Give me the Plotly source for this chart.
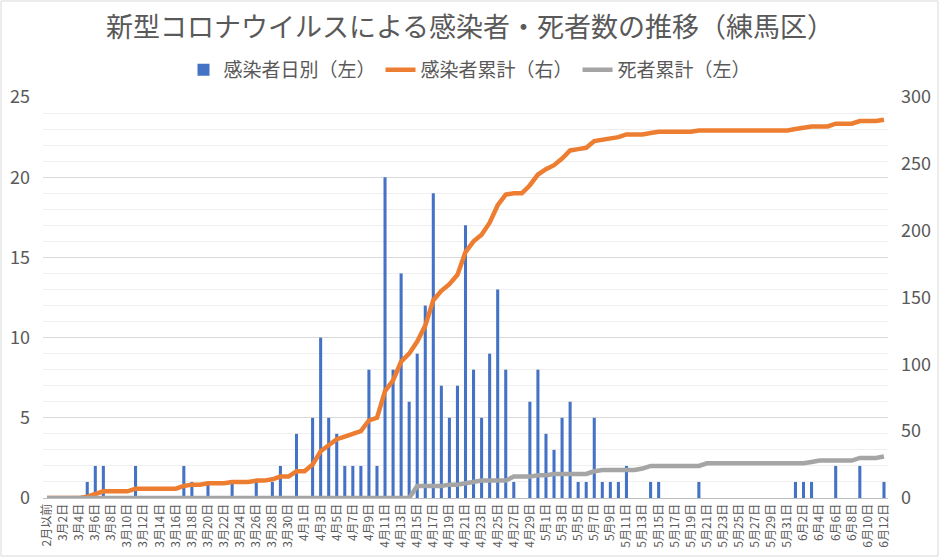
import plotly.graph_objects as go

categories = (["2月以前"] + [f"3月{d}日" for d in range(1, 32)]
              + [f"4月{d}日" for d in range(1, 31)]
              + [f"5月{d}日" for d in range(1, 32)]
              + [f"6月{d}日" for d in range(1, 13)])

daily_cases = [0,
    0, 0, 0, 0, 1, 2, 2, 0, 0, 0, 2, 0, 0, 0, 0, 0, 2, 1, 0, 1,
    0, 0, 1, 0, 0, 1, 0, 1, 2, 0, 4,
    0, 5, 10, 5, 4, 2, 2, 2, 8, 2, 20, 8, 14, 6, 9, 12, 19, 7, 5, 7,
    17, 8, 5, 9, 13, 8, 1, 0, 6, 8,
    4, 3, 5, 6, 1, 1, 5, 1, 1, 1, 2, 0, 0, 1, 1, 0, 0, 0, 0, 1,
    0, 0, 0, 0, 0, 0, 0, 0, 0, 0, 0,
    1, 1, 1, 0, 0, 2, 0, 0, 2, 0, 0, 1]

cumulative_cases = [0,
    0, 0, 0, 0, 1, 3, 5, 5, 5, 5, 7, 7, 7, 7, 7, 7, 9, 10, 10, 11,
    11, 11, 12, 12, 12, 13, 13, 14, 16, 16, 20,
    20, 25, 35, 40, 44, 46, 48, 50, 58, 60, 80, 88, 102, 108, 117, 129, 148, 155, 160, 167,
    184, 192, 197, 206, 219, 227, 228, 228, 234, 242,
    246, 249, 254, 260, 261, 262, 267, 268, 269, 270, 272, 272, 272, 273, 274, 274, 274, 274, 274, 275,
    275, 275, 275, 275, 275, 275, 275, 275, 275, 275, 275,
    276, 277, 278, 278, 278, 280, 280, 280, 282, 282, 282, 283]

cumulative_deaths = [0,
    0, 0, 0, 0, 0, 0, 0, 0, 0, 0, 0, 0, 0, 0, 0, 0, 0, 0, 0, 0,
    0, 0, 0, 0, 0, 0, 0, 0, 0, 0, 0,
    0, 0, 0, 0, 0, 0, 0, 0, 0, 0, 0, 0, 0, 0, 9, 9, 9, 9, 10, 10,
    11, 12, 13, 13, 13, 13, 16, 16, 16, 17,
    17, 18, 18, 18, 18, 18, 20, 21, 21, 21, 21, 21, 22, 24, 24, 24, 24, 24, 24, 24,
    26, 26, 26, 26, 26, 26, 26, 26, 26, 26, 26,
    26, 26, 27, 28, 28, 28, 28, 28, 30, 30, 30, 31]

x_tick_labels = categories[::2]
left_ticks = [0, 5, 10, 15, 20, 25]
right_ticks = [0, 50, 100, 150, 200, 250, 300]

FONT = "Noto Sans CJK JP"
TXT = "#595959"

fig = go.Figure()
fig.add_trace(go.Bar(x=categories, y=daily_cases, name="感染者日別（左）",
                     marker=dict(color="#4472C4", line=dict(width=0)), yaxis="y"))
fig.add_trace(go.Scatter(x=categories, y=cumulative_cases, name="感染者累計（右）",
                         mode="lines", line=dict(color="#ED7D31", width=4.5), yaxis="y2"))
fig.add_trace(go.Scatter(x=categories, y=cumulative_deaths, name="死者累計（左）",
                         mode="lines", line=dict(color="#A5A5A5", width=4.5), yaxis="y2"))

L, R, T, B = 43, 52, 97, 60
W, H = 940, 558
pw, ph = W - L - R, H - T - B

fig.update_layout(
    width=W, height=H,
    margin=dict(l=L, r=R, t=T, b=B),
    paper_bgcolor="white", plot_bgcolor="white",
    font=dict(family=FONT, color=TXT),
    bargap=0.62,
    title=dict(text="新型コロナウイルスによる感染者・死者数の推移（練馬区）",
               x=0.5, xanchor="center", y=1 - 28 / H, yanchor="middle",
               font=dict(size=27, color=TXT, family=FONT)),
    legend=dict(orientation="h", x=(470 - L) / pw, xanchor="center",
                y=(H - B - 70) / ph, yanchor="middle",
                font=dict(size=19, color=TXT, family=FONT),
                itemwidth=30, tracegroupgap=0, bgcolor="rgba(0,0,0,0)"),
    xaxis=dict(type="category", categoryorder="array", categoryarray=categories,
               tickmode="array", tickvals=x_tick_labels, ticktext=x_tick_labels,
               tickangle=-90, tickfont=dict(size=12, color=TXT, family=FONT),
               showgrid=False, showline=True, linecolor="#BFBFBF", linewidth=1,
               ticks="", automargin=False, range=[-0.5, len(categories) - 0.5]),
    yaxis=dict(range=[0, 25], tickmode="array", tickvals=left_ticks,
               tickfont=dict(size=18, color=TXT, family=FONT),
               showgrid=True, gridcolor="#D9D9D9", gridwidth=1,
               minor=dict(dtick=1, showgrid=True, gridcolor="#EFEFEF", gridwidth=1),
               zeroline=False, showline=False, ticks="",
               ticklabelstandoff=12, automargin=False),
    yaxis2=dict(range=[0, 300], tickmode="array", tickvals=right_ticks,
                overlaying="y", side="right",
                tickfont=dict(size=18, color=TXT, family=FONT),
                showgrid=False, zeroline=False, showline=False, ticks="",
                ticklabelstandoff=12, automargin=False),
    shapes=[dict(type="rect", xref="paper", yref="paper",
                 x0=(1 - L) / pw, x1=(W - 2 - L) / pw,
                 y0=(H - B - (H - 2)) / ph, y1=(H - B - 1) / ph,
                 line=dict(color="#D9D9D9", width=1), fillcolor="rgba(0,0,0,0)",
                 layer="below")],
    showlegend=True,
    hovermode=False,
)

fig.write_html("out.html", config={"displayModeBar": False},
               post_script="document.body.style.margin='0';document.body.style.overflow='hidden';")
